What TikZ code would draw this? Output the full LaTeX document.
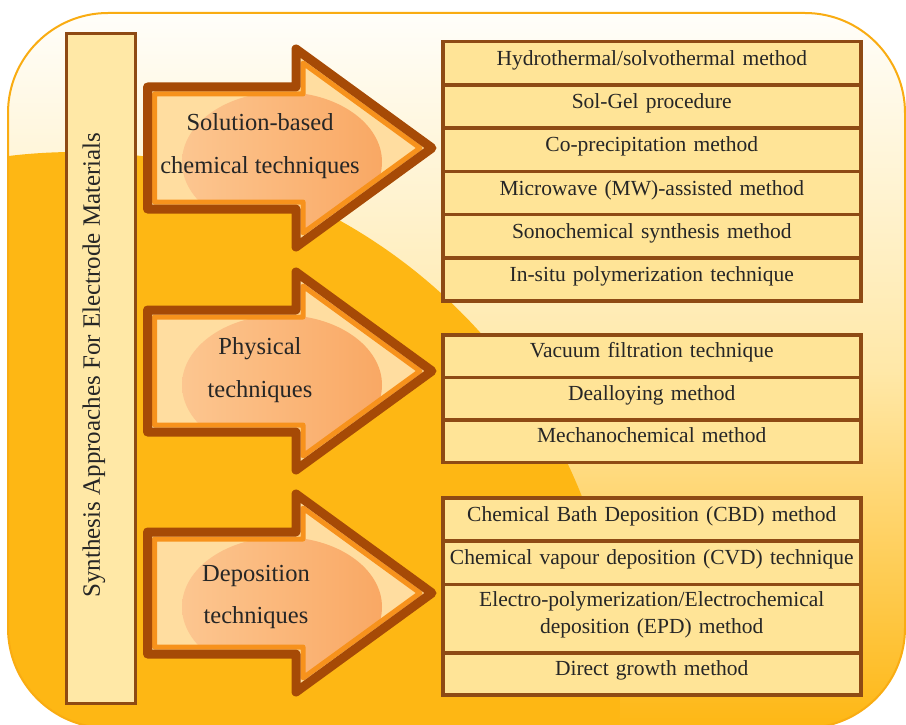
\documentclass[tikz,border=0pt]{standalone}
\usepackage{fontspec}
\setmainfont{Liberation Serif}
\usetikzlibrary{shapes,positioning}

\definecolor{edgebrown}{HTML}{8E4A14}
\definecolor{boxfill}{HTML}{FFE497}
\definecolor{sidefill}{HTML}{FFE8A6}
\definecolor{bgtop}{HTML}{FFFEFA}
\definecolor{bgmid}{HTML}{FFE8A8}
\definecolor{bgorange}{HTML}{FEB714}
\definecolor{bgedge}{HTML}{F9AC12}
\definecolor{arrowbrown}{HTML}{A64A06}
\definecolor{arrowband}{HTML}{F7921C}
\definecolor{arrowcream}{HTML}{FFDDA0}
\definecolor{peachlight}{HTML}{FCC690}
\definecolor{peachdark}{HTML}{F9A864}
\definecolor{ink}{HTML}{262626}

\newcommand\rowtext[2][39.7]{\rule[-17.75pt]{0pt}{#1pt}#2}

\begin{document}
\begin{tikzpicture}[x=1pt,y=-1pt]
\tikzstyle{methods}=[rectangle split, draw=edgebrown, line width=3.5pt, fill=boxfill, text=ink, text width=416pt, align=center, inner xsep=1pt, inner ysep=0pt, outer sep=0pt, anchor=north west, font=\fontsize{21.5}{26.5}\selectfont]
\tikzstyle{bigarrow}=[line width=9pt, line join=round, draw=arrowbrown]
\tikzstyle{arrowlabel}=[text=ink, align=center, font=\fontsize{24.5}{42.5}\selectfont]
\useasboundingbox (0,0) rectangle (906,725);
\shade[rounded corners=100pt, top color=bgtop, bottom color=bgorange, middle color=bgmid] (8,13) rectangle (905,728);
\begin{scope}
\clip[rounded corners=100pt] (8,13) rectangle (905,728);
\fill[bgorange] (75,697) circle[radius=545pt];
\end{scope}
\draw[bgedge, line width=2pt, rounded corners=100pt] (8,13) rectangle (905,728);

\node[draw=edgebrown, line width=3pt, fill=sidefill, minimum width=69pt, minimum height=670pt, inner sep=0pt] (sidebox) at (101,368.5) {};
\node[rotate=90, text=ink, font=\fontsize{25}{30}\selectfont] (sidetitle) at (94,365) {Synthesis Approaches For Electrode Materials};

\foreach \cy/\tx/\ty/\name/\txt in {148/260/146/solution/{Solution-based\\chemical techniques}, 371/260/370/physical/{Physical\\techniques}, 593/256/597/deposition/{Deposition\\techniques}}{
\fill[arrowcream] (147.5,\cy-61) -- (296,\cy-61) -- (296,\cy-99) -- (432,\cy) -- (296,\cy+99) -- (296,\cy+61) -- (147.5,\cy+61) -- cycle;
\begin{scope}
\clip (154.5,\cy-54) -- (303,\cy-54) -- (303,\cy-85) -- (420,\cy) -- (303,\cy+85) -- (303,\cy+54) -- (154.5,\cy+54) -- cycle;
\shade[left color=peachlight, right color=peachdark] (282,\cy+14) ellipse[x radius=100pt, y radius=70pt];
\end{scope}
\draw[arrowband, line width=5pt, line join=round] (154.5,\cy-54) -- (303,\cy-54) -- (303,\cy-85) -- (420,\cy) -- (303,\cy+85) -- (303,\cy+54) -- (154.5,\cy+54) -- cycle;
\draw[bigarrow] (147.5,\cy-61) -- (296,\cy-61) -- (296,\cy-99) -- (432,\cy) -- (296,\cy+99) -- (296,\cy+61) -- (147.5,\cy+61) -- cycle;
\node[arrowlabel] (\name) at (\tx,\ty) {\txt};
}

\node[methods, rectangle split parts=6] (solutionlist) at (442.75,41.75) {\rowtext{Hydrothermal/solvothermal method}
  \nodepart{two}\rowtext{Sol-Gel procedure}
  \nodepart{three}\rowtext{Co-precipitation method}
  \nodepart{four}\rowtext{Microwave (MW)-assisted method}
  \nodepart{five}\rowtext{Sonochemical synthesis method}
  \nodepart{six}\rowtext{In-situ polymerization technique}};
\node[methods, rectangle split parts=3] (physicallist) at (442.75,334.75) {\rowtext[39]{Vacuum filtration technique}
  \nodepart{two}\rowtext[39]{Dealloying method}
  \nodepart{three}\rowtext[39]{Mechanochemical method}};
\node[methods, rectangle split parts=4] (depositionlist) at (442.75,497.75) {\rowtext[39.8]{Chemical Bath Deposition (CBD) method}
  \nodepart{two}\rowtext[39.8]{Chemical vapour deposition (CVD) technique}
  \nodepart{three}\rule{0pt}{20.85pt}Electro-polymerization/Electrochemical\\deposition (EPD) method\rule[-17.65pt]{0pt}{17.65pt}
  \nodepart{four}\rowtext[38.5]{Direct growth method}};
\end{tikzpicture}
\end{document}
